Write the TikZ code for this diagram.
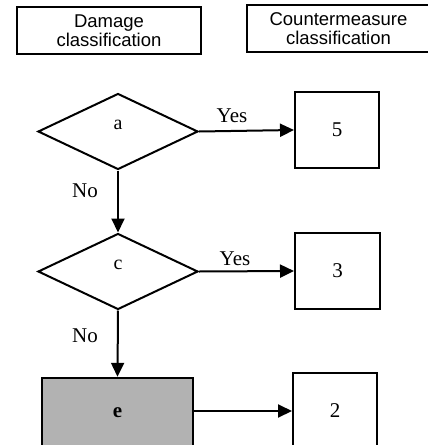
\documentclass[tikz,border=0pt]{standalone}
\usepackage{fontspec}
\setmainfont{Liberation Serif}
\newfontfamily\arialf{Liberation Sans}
\usetikzlibrary{arrows.meta,shapes.geometric}
\begin{document}
\begin{tikzpicture}[x=1pt,y=-1pt,
  hdr/.style={draw,line width=1.8pt,rectangle,inner sep=0pt,align=center,
    font=\arialf\fontsize{18.5}{19}\selectfont},
  dec/.style={draw,line width=2pt,diamond,inner sep=0pt,minimum width=160pt,minimum height=76pt,
    font=\fontsize{20}{20}\selectfont,text height=6pt,text depth=9.4pt},
  outbox/.style={draw,line width=2pt,rectangle,inner sep=0pt,minimum width=84pt,minimum height=76pt,
    font=\fontsize{21}{21}\selectfont},
  grbox/.style={draw,line width=2.4pt,rectangle,inner sep=0pt,fill=black!30,
    font=\bfseries\fontsize{21}{21}\selectfont},
  arr/.style={line width=2pt,-{Triangle[length=14pt,width=13pt]}},
  lbl/.style={anchor=base,inner sep=0pt,font=\fontsize{21}{21}\selectfont}]
\useasboundingbox (0,0) rectangle (428,445);
\clip (0,0) rectangle (428,445);
\node[hdr,minimum width=184pt,minimum height=47pt] (dmg) at (109,30.5) {Damage\\classification};
\node[hdr,minimum width=183pt,minimum height=47pt] (cm) at (338.5,28.5) {Countermeasure\\classification};
\node[dec] (da) at (118,131.5) {a};
\node[outbox] (b5) at (337,130) {5};
\node[dec] (dc) at (118,271.5) {c};
\node[outbox,minimum width=85pt] (b3) at (337.5,271) {3};
\node[grbox,minimum width=151pt,minimum height=70pt] (be) at (117.5,413) {e};
\node[outbox,minimum height=76pt] (b2) at (335,411) {2};
\draw[arr] (da.east) -- (b5.west);
\draw[arr] (da.south) -- (dc.north);
\draw[arr] (dc.east) -- (b3.west);
\draw[arr] (dc.south) -- (be.north);
\draw[arr] (b2.west -| be.east) -- (b2.west);
\node[lbl] (yes1) at (232,122) {Yes};
\node[lbl] (no1) at (85,197) {No};
\node[lbl] (yes2) at (235,265) {Yes};
\node[lbl] (no2) at (85,342) {No};
\end{tikzpicture}
\end{document}
